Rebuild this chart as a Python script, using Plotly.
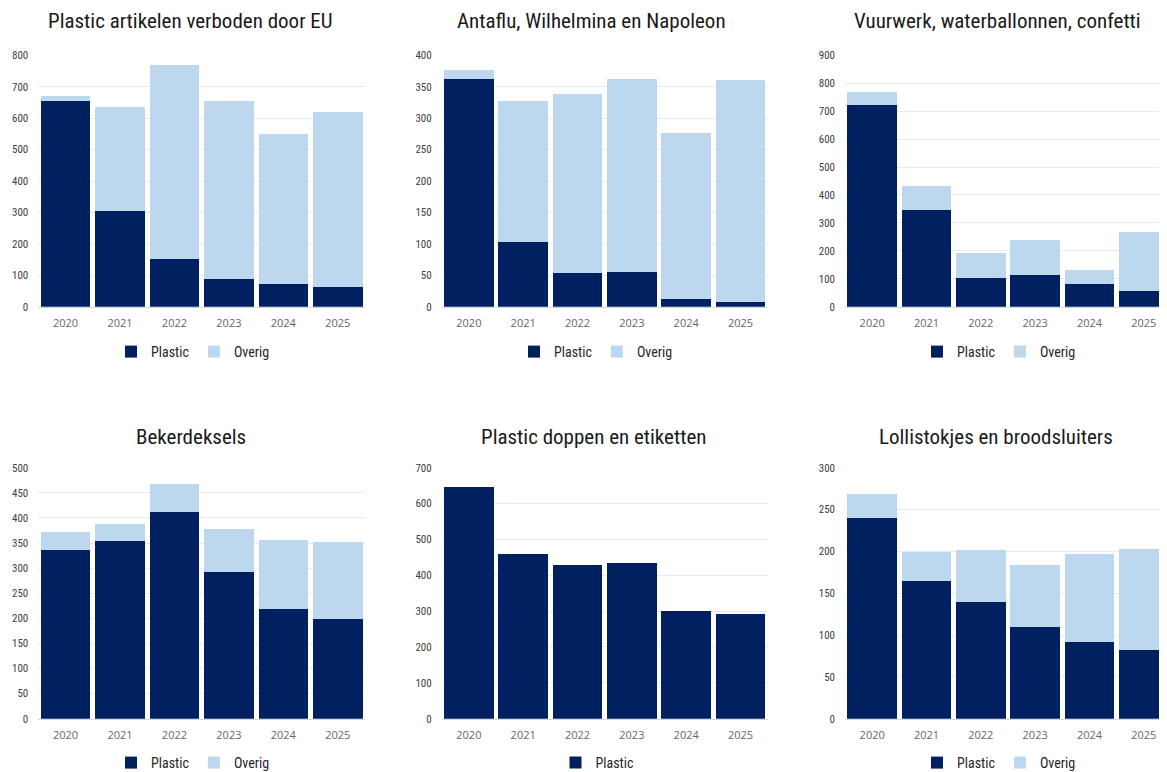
import plotly.graph_objects as go

years = ["2020", "2021", "2022", "2023", "2024", "2025"]

titles = [
    "Plastic artikelen verboden door EU",
    "Antaflu, Wilhelmina en Napoleon",
    "Vuurwerk, waterballonnen, confetti",
    "Bekerdeksels",
    "Plastic doppen en etiketten",
    "Lollistokjes en broodsluiters",
]

# Plastic / Overig per chart
eu_plastic = [653, 304, 152, 89, 73, 64]
eu_overig = [19, 330, 618, 567, 478, 554]

antaflu_plastic = [363, 103, 54, 56, 12, 8]
antaflu_overig = [14, 224, 284, 306, 264, 353]

vuurwerk_plastic = [722, 347, 104, 115, 80, 55]
vuurwerk_overig = [47, 86, 87, 125, 50, 214]

beker_plastic = [337, 353, 412, 293, 218, 199]
beker_overig = [34, 34, 55, 84, 137, 153]

doppen_plastic = [647, 458, 428, 433, 300, 292]

lolli_plastic = [240, 164, 140, 110, 92, 82]
lolli_overig = [29, 35, 62, 74, 105, 121]

y_max = [800, 400, 900, 500, 700, 300]
y_step = [100, 50, 100, 50, 100, 50]

series = [
    (eu_plastic, eu_overig),
    (antaflu_plastic, antaflu_overig),
    (vuurwerk_plastic, vuurwerk_overig),
    (beker_plastic, beker_overig),
    (doppen_plastic, None),
    (lolli_plastic, lolli_overig),
]

# the page body has an 8px margin, so the figure sits 8px in from the corner
OFF = 8
W, H = 1167 - OFF, 772 - OFF
NAVY = "#002060"
LIGHT = "#BDD7EE"
NARROW = "Liberation Sans Narrow, Roboto Condensed, Arial Narrow, Roboto, sans-serif"

# panel geometry in screen pixels
x_px = [(38.3, 365.0), (441.7, 767.7), (845.0, 1167.0)]
y_px = [(55.3, 306.7), (467.7, 718.7)]
title_pos = [(190, 21), (591, 21), (997, 21), (191, 437), (593, 437), (996, 437)]
legend_pos = [(193, 352), (596, 352), (999, 352), (193, 763), (597, 763), (999, 763)]


def fx(px):
    return (px - OFF) / W


def fy(py):
    return 1 - (py - OFF) / H


fig = go.Figure()

for i, (plastic, overig) in enumerate(series):
    n = i + 1
    xa = "x" if n == 1 else f"x{n}"
    ya = "y" if n == 1 else f"y{n}"
    lg = "legend" if n == 1 else f"legend{n}"
    fig.add_trace(go.Bar(x=years, y=plastic, name="Plastic", marker_color=NAVY,
                         xaxis=xa, yaxis=ya, legend=lg))
    if overig is not None:
        fig.add_trace(go.Bar(x=years, y=overig, name="Overig", marker_color=LIGHT,
                             xaxis=xa, yaxis=ya, legend=lg))

    col, row = i % 3, i // 3
    x0, x1 = x_px[col]
    y0, y1 = y_px[row]
    # last column is clipped at the page edge like the original
    x_hi = 5.5 if col < 2 else 5.5 - 4 / 54.4
    xkey = "xaxis" if n == 1 else f"xaxis{n}"
    ykey = "yaxis" if n == 1 else f"yaxis{n}"
    fig.update_layout({
        xkey: dict(domain=[fx(x0), min(fx(x1), 1)], anchor=ya, range=[-0.5, x_hi],
                   showgrid=False, showline=True, linecolor="#D0D7E1", linewidth=1,
                   ticks="", tickfont=dict(family="Open Sans, sans-serif", size=11, color="#666666"),
                   ticklabelstandoff=6, fixedrange=True),
        ykey: dict(domain=[fy(y1), fy(y0)], anchor=xa, range=[0, y_max[i]],
                   dtick=y_step[i], showgrid=True, gridcolor="#E3EBF5", gridwidth=1,
                   zeroline=False, showline=False, ticks="",
                   tickfont=dict(family=NARROW, size=11, color="#404040"),
                   ticklabelstandoff=9, fixedrange=True),
        lg: dict(orientation="h", x=fx(legend_pos[i][0]), y=fy(legend_pos[i][1]),
                 xanchor="center", yanchor="middle", bgcolor="rgba(0,0,0,0)",
                 font=dict(family=NARROW, size=14, color="#262626"),
                 itemwidth=30, tracegroupgap=0, traceorder="normal"),
    })
    fig.add_annotation(text=titles[i], x=fx(title_pos[i][0]), y=fy(title_pos[i][1]),
                       xref="paper", yref="paper", showarrow=False,
                       xanchor="center", yanchor="middle",
                       font=dict(family=NARROW, size=21, color="#1A1A1A"))

fig.update_layout(
    width=W,
    height=H,
    margin=dict(l=0, r=0, t=0, b=0, autoexpand=False),
    barmode="stack",
    bargap=0.09,
    paper_bgcolor="white",
    plot_bgcolor="white",
    showlegend=True,
)
fig.update_traces(marker_line_width=0)

fig.write_html("out.html")
